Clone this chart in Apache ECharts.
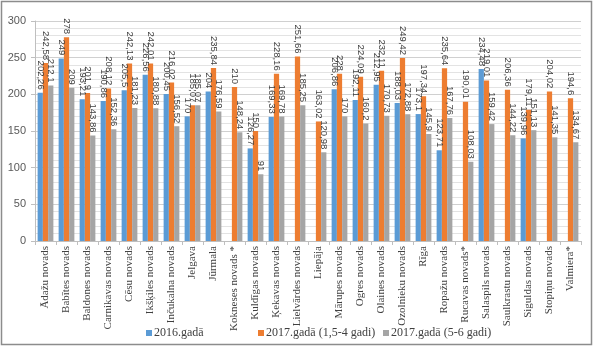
<!DOCTYPE html>
<html>
<head>
<meta charset="utf-8">
<script src="https://cdn.jsdelivr.net/npm/echarts@6/dist/echarts.min.js"></script>
<style>
  html, body { margin: 0; padding: 0; background: #fff; }
  #chart { width: 594px; height: 348px; }
</style>
</head>
<body>
<div id="chart"></div>
<script>
// Municipalities
const categories = [
  'Ādažu novads', 'Babītes novads', 'Baldones novads', 'Carnikavas novads', 'Cēsu novads',
  'Ikšķiles novads', 'Inčukalna novads', 'Jelgava', 'Jūrmala', 'Kokneses novads *',
  'Kuldīgas novads', 'Ķekavas novads', 'Lielvārdes novads', 'Liepāja', 'Mārupes novads',
  'Ogres novads', 'Olaines novads', 'Ozolnieku novads', 'Rīga', 'Ropažu novads',
  'Rucavas novads*', 'Salaspils novads', 'Saulkrastu novads', 'Siguldas novads',
  'Stopiņu novads', 'Valmiera*'
];

// 2016
const values2016 = [
  202.26, 249, 193.21, 190.86, 205.5,
  226.56, 200.45, 170, 204, null,
  126.27, 169.33, null, null, 206.86,
  192.11, 212.95, 188.03, 173.1, 123.71,
  null, 234.48, null, 139.96,
  null, null
];

// 2017, ages 1.5–4
const values2017a = [
  242.58, 278, 201.9, 208.12, 242.13,
  242.01, 216.02, 185.07, 235.84, 210,
  150, 228.16, 251.66, 163.02, 228,
  224.09, 232.11, 249.42, 197.34, 235.64,
  190.01, 219.01, 206.36, 179.11,
  204.02, 194.6
];

// 2017, ages 5–6
const values2017b = [
  212.1, 209, 143.86, 152.36, 181.23,
  180.88, 156.52, 185.07, 176.59, 148.24,
  91, 169.78, 185.25, 120.98, 170,
  160.2, 170.73, 172.88, 145.9, 167.76,
  108.03, 159.42, 144.22, 151.13,
  141.35, 134.67
];

const seriesNames = ['2016.gadā', '2017.gadā (1,5-4 gadi)', '2017.gadā (5-6 gadi)'];
const colors = ['#5B9BD5', '#ED7D31', '#A5A5A5'];

const yTicks = { min: 0, max: 300, interval: 50 };

const serif = '"Liberation Serif", "DejaVu Serif", serif';
const sans = '"Liberation Sans", "DejaVu Sans", sans-serif';

function fmt(v) {
  return String(v).replace('.', ',');
}

function makeSeries(name, data, color) {
  return {
    name: name,
    type: 'bar',
    data: data,
    barGap: '0%',
    barCategoryGap: '25%',
    itemStyle: { color: color },
    label: {
      show: true,
      position: 'top',
      distance: 3,
      rotate: -90,
      align: 'right',
      verticalAlign: 'middle',
      fontFamily: sans,
      fontSize: 9.5,
      color: '#404040',
      formatter: p => fmt(p.value)
    },
    emphasis: { disabled: true }
  };
}

// one legend block per series, laid out in fixed columns
const legendLefts = [141, 253, 378];
const legends = seriesNames.map((name, i) => ({
  left: legendLefts[i],
  bottom: 4,
  itemWidth: 6,
  itemHeight: 6,
  icon: 'rect',
  textStyle: { fontFamily: serif, fontSize: 12, color: '#404040', padding: [0, 0, 0, -3] },
  data: [name]
}));

const chart = echarts.init(document.getElementById('chart'), null, { renderer: 'canvas' });

chart.setOption({
  animation: false,
  backgroundColor: '#fff',
  color: colors,
  grid: { left: 35, right: 13, top: 21, bottom: 107, containLabel: false },
  legend: legends,
  xAxis: {
    type: 'category',
    data: categories,
    axisLine: { lineStyle: { color: '#bfbfbf' } },
    axisTick: { show: true, alignWithLabel: false, length: 4, lineStyle: { color: '#bfbfbf' } },
    axisLabel: {
      interval: 0,
      rotate: 90,
      margin: 5,
      fontFamily: serif,
      fontSize: 11,
      color: '#404040'
    }
  },
  yAxis: {
    type: 'value',
    min: yTicks.min,
    max: yTicks.max,
    interval: yTicks.interval,
    axisLine: { show: true, lineStyle: { color: '#bfbfbf' } },
    axisTick: { show: true, length: 4, lineStyle: { color: '#bfbfbf' } },
    axisLabel: { fontFamily: sans, fontSize: 11, color: '#595959', margin: 9 },
    splitLine: { lineStyle: { color: '#d0d0d0' } },
    minorTick: { show: false, splitNumber: 5 },
    minorSplitLine: { show: true, lineStyle: { color: '#e3e3e3' } }
  },
  graphic: [{
    type: 'rect',
    shape: { x: 1.5, y: 1.5, width: 590, height: 343 },
    style: { fill: null, stroke: '#8c8c8c', lineWidth: 1.5 },
    silent: true
  }],
  series: [
    makeSeries(seriesNames[0], values2016, colors[0]),
    makeSeries(seriesNames[1], values2017a, colors[1]),
    makeSeries(seriesNames[2], values2017b, colors[2])
  ]
});
</script>
</body>
</html>
